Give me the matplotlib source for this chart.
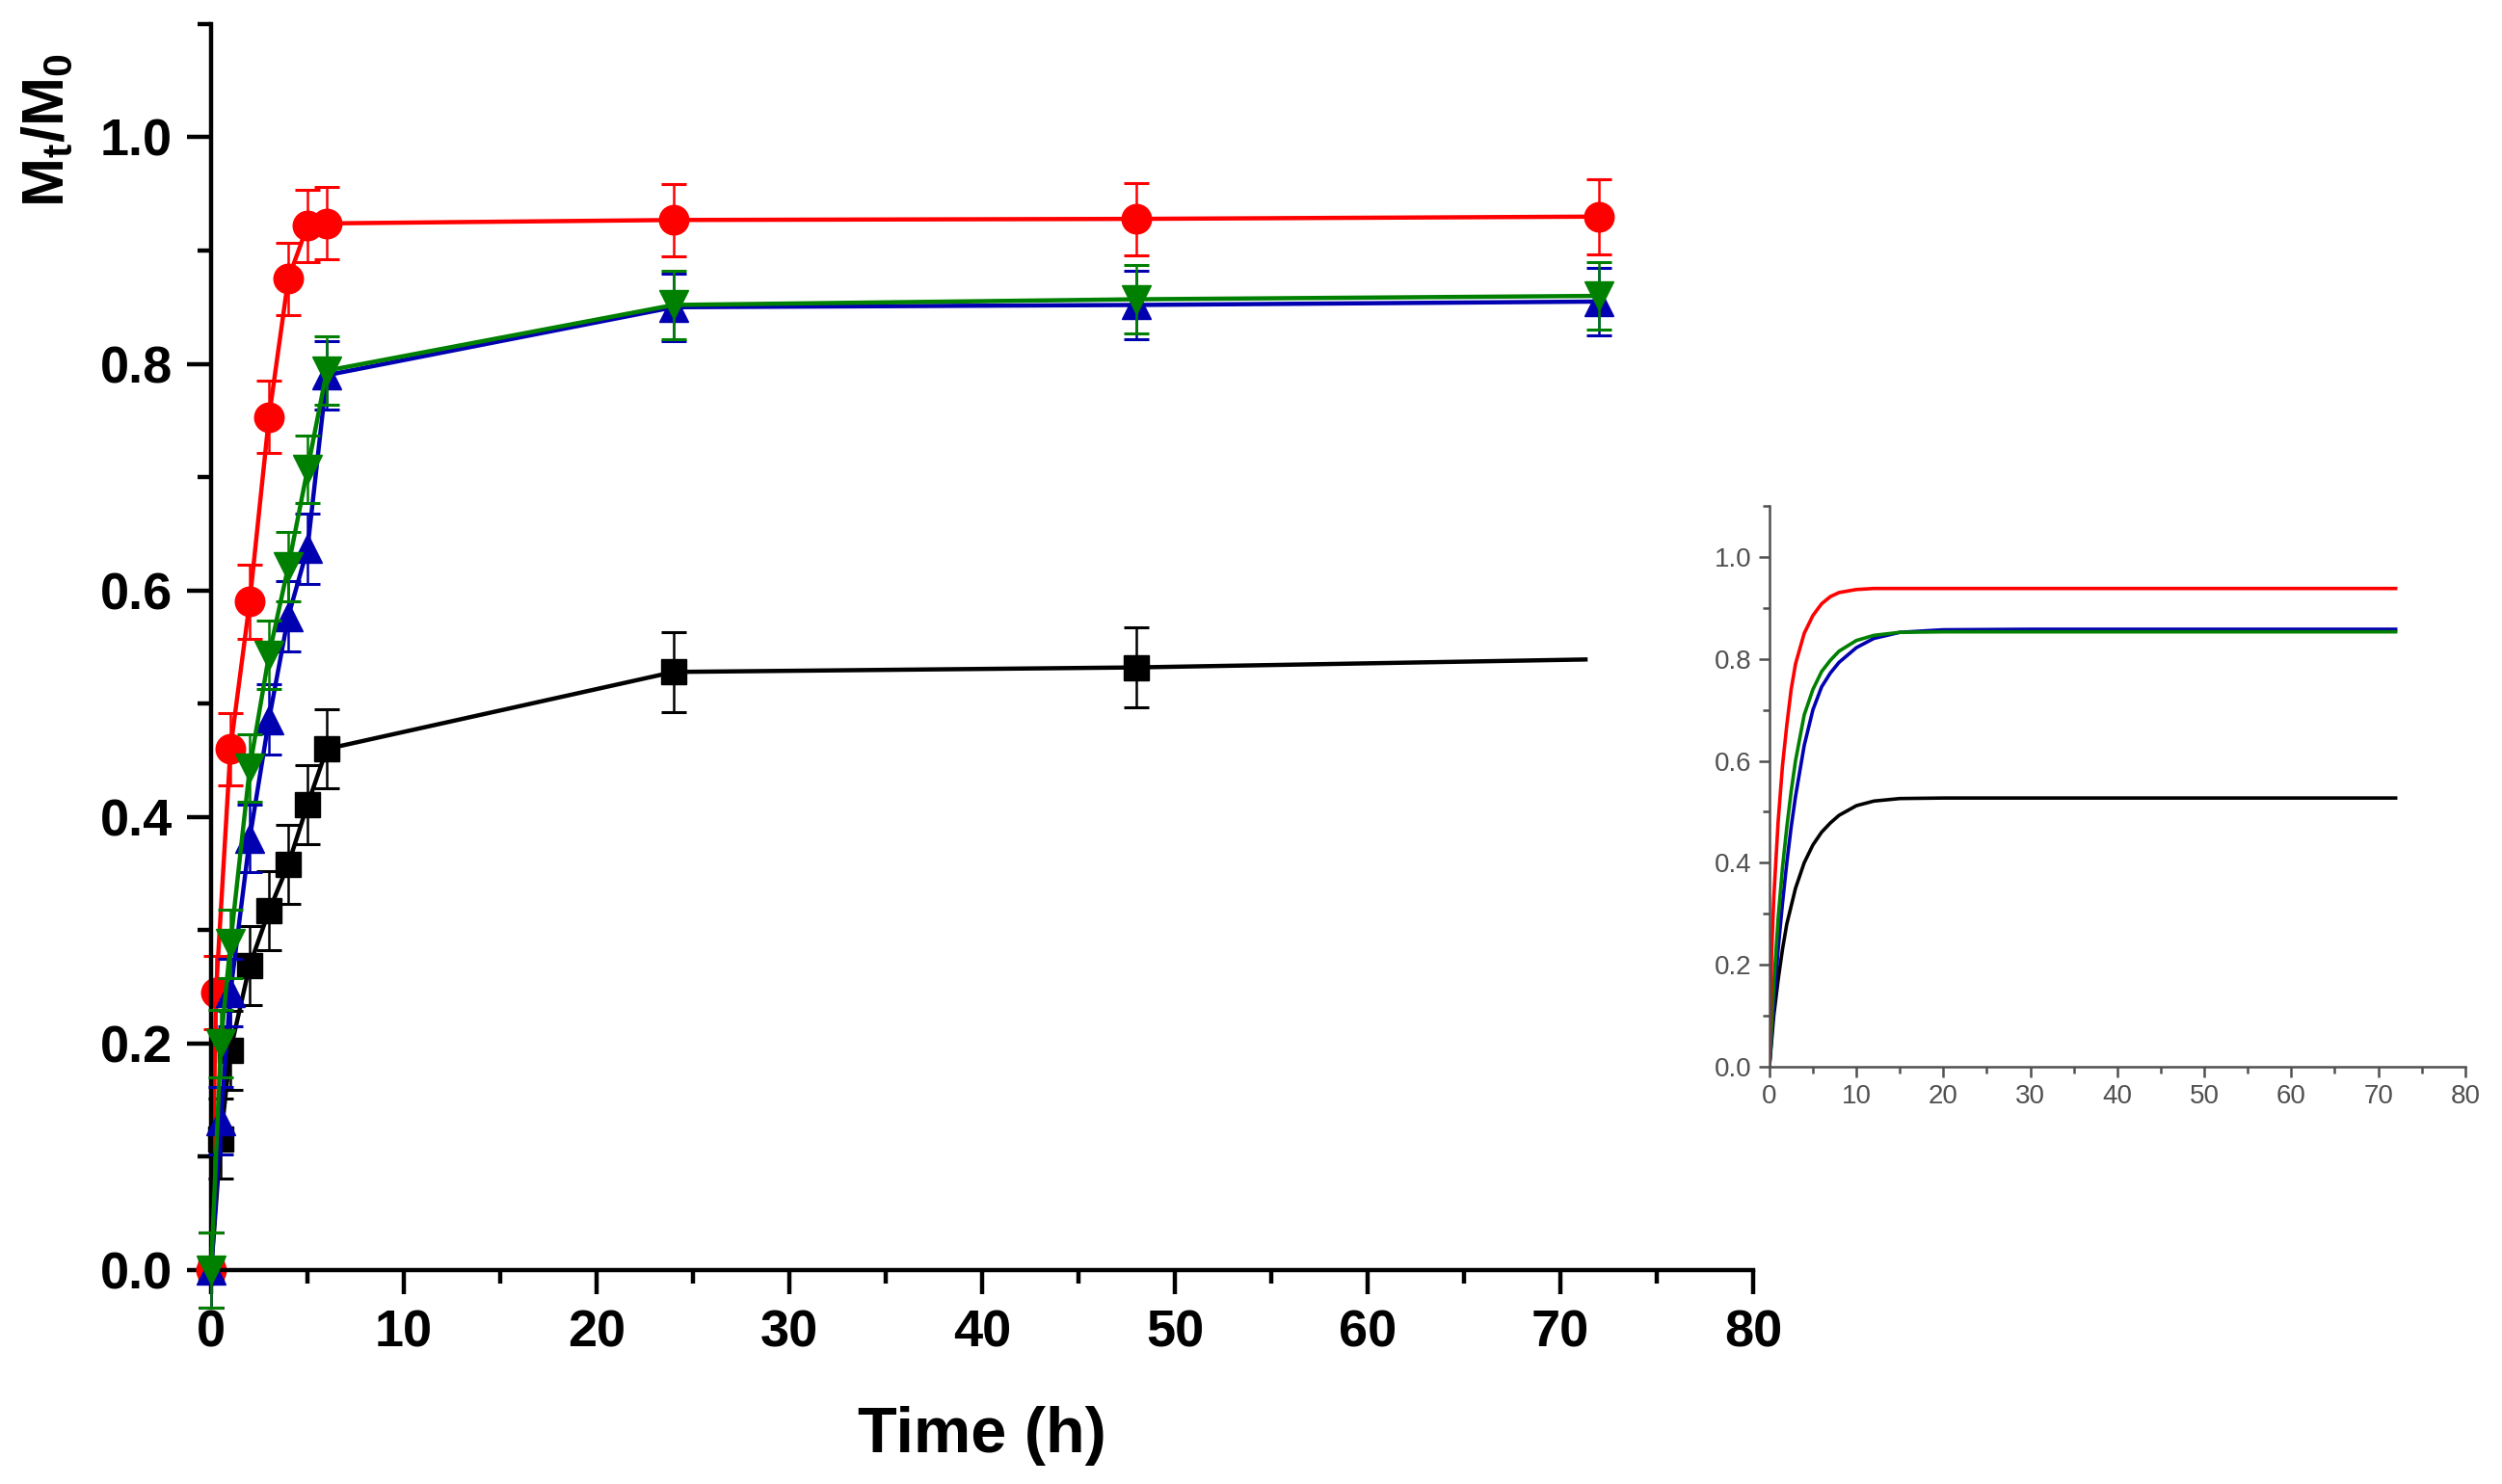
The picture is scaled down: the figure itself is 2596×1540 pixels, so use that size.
import numpy as np
import matplotlib
matplotlib.use("Agg")
import matplotlib.pyplot as plt
from matplotlib.ticker import MultipleLocator

plt.rcParams["font.family"] = ["Liberation Sans", "DejaVu Sans"]
plt.rcParams["mathtext.fontset"] = "custom"
plt.rcParams["mathtext.rm"] = "Liberation Sans"
plt.rcParams["mathtext.bf"] = "Liberation Sans:bold"
plt.rcParams["mathtext.it"] = "Liberation Sans:italic"

# measured release (Mt/M0) with error bars
time_red = [0, 0.25, 1, 2, 3, 4, 5, 6, 24, 48, 72]
red_y = [0, 0.245, 0.46, 0.59, 0.753, 0.875, 0.922, 0.924, 0.927, 0.928, 0.930]
red_err = [0.033, 0.032, 0.032, 0.033, 0.032, 0.032, 0.032, 0.032, 0.032, 0.032, 0.033]

time_blue = [0, 0.5, 1, 2, 3, 4, 5, 6, 24, 48, 72]
blue_y = [0, 0.132, 0.245, 0.381, 0.486, 0.577, 0.637, 0.79, 0.850, 0.852, 0.855]
blue_err = [0.033, 0.03, 0.03, 0.03, 0.031, 0.031, 0.031, 0.03, 0.03, 0.03, 0.03]

time_green = [0, 0.5, 1, 2, 3, 4, 5, 6, 24, 48, 72]
green_y = [0, 0.2, 0.288, 0.443, 0.543, 0.621, 0.707, 0.794, 0.852, 0.857, 0.860]
green_err = [0.033, 0.03, 0.03, 0.03, 0.03, 0.031, 0.03, 0.03, 0.03, 0.03, 0.03]

time_black = [0, 0.5, 1, 2, 3, 4, 5, 6, 24, 48, 71.3]
black_y = [0, 0.116, 0.194, 0.269, 0.317, 0.358, 0.411, 0.46, 0.528, 0.532, 0.539]
black_err = [0.033, 0.035, 0.035, 0.035, 0.035, 0.035, 0.035, 0.035, 0.0355, 0.0355, np.nan]

# fitted curves shown in the inset
time_fit = [0, 0.25, 0.5, 1, 1.5, 2, 2.5, 3, 4, 5, 6, 7, 8, 10, 12, 15, 20, 30, 72]
fit_red = [0, 0.22, 0.33, 0.48, 0.59, 0.67, 0.74, 0.79, 0.85, 0.885, 0.908, 0.922,
           0.930, 0.936, 0.938, 0.938, 0.938, 0.938, 0.938]
fit_green = [0, 0.08, 0.16, 0.29, 0.39, 0.47, 0.54, 0.60, 0.69, 0.74, 0.775, 0.797,
             0.815, 0.836, 0.846, 0.852, 0.853, 0.853, 0.853]
fit_blue = [0, 0.06, 0.12, 0.23, 0.32, 0.40, 0.47, 0.53, 0.63, 0.70, 0.745, 0.772,
            0.793, 0.822, 0.840, 0.852, 0.857, 0.858, 0.858]
fit_black = [0, 0.05, 0.10, 0.17, 0.23, 0.28, 0.315, 0.35, 0.40, 0.435, 0.46, 0.478,
             0.493, 0.512, 0.521, 0.526, 0.527, 0.527, 0.527]

RED = "#FF0000"
GREEN = "#008000"
BLUE = "#0000B0"
BLACK = "#000000"

fig = plt.figure(figsize=(25.96, 15.4), dpi=100)
ax = fig.add_axes([0.0844, 0.1442, 0.6163, 0.8396])

series = [
    (time_black, black_y, black_err, BLACK, "s", 19, 1),
    (time_red, red_y, red_err, RED, "o", 22, 2),
    (time_blue, blue_y, blue_err, BLUE, "^", 22, 3),
    (time_green, green_y, green_err, GREEN, "v", 22, 4),
]

for x, y, err, col, mk, ms, z in series:
    ax.errorbar(x, y, yerr=err, fmt="none", ecolor=col, elinewidth=1.8,
                capsize=9.5, capthick=2.2, zorder=z, clip_on=False)
    nmark = len(x) - 1 if col == BLACK else len(x)
    ax.plot(x, y, color=col, lw=3.2, marker=mk, markersize=ms,
            markevery=slice(0, nmark), zorder=z + 0.5, clip_on=False)

ax.set_xlim(0, 80)
ax.set_ylim(0, 1.1)
ax.xaxis.set_major_locator(MultipleLocator(10))
ax.xaxis.set_minor_locator(MultipleLocator(5))
ax.yaxis.set_major_locator(MultipleLocator(0.2))
ax.yaxis.set_minor_locator(MultipleLocator(0.1))
ax.yaxis.set_major_formatter(plt.FormatStrFormatter("%.1f"))

for side in ["top", "right"]:
    ax.spines[side].set_visible(False)
for side in ["left", "bottom"]:
    ax.spines[side].set_linewidth(3.2)

ax.tick_params(which="major", direction="out", length=18, width=3.2, pad=11,
               labelsize=39)
ax.tick_params(which="minor", direction="out", length=10, width=3.2)
for lab in ax.get_xticklabels() + ax.get_yticklabels():
    lab.set_fontweight("bold")

ax.set_xlabel("Time (h)", fontsize=48, fontweight="bold")
ax.xaxis.set_label_coords(0.5, -0.109)
ax.set_ylabel(r"$\mathbf{M_t/M_0}$", fontsize=44)
ax.yaxis.set_label_coords(-0.088, 0.915)

# inset with model fits
ins = fig.add_axes([0.7072, 0.2812, 0.2781, 0.3779])
ins.plot(time_fit, fit_black, color=BLACK, lw=2.6)
ins.plot(time_fit, fit_blue, color=BLUE, lw=2.6)
ins.plot(time_fit, fit_green, color=GREEN, lw=2.6)
ins.plot(time_fit, fit_red, color=RED, lw=2.6)

ins.set_xlim(0, 80)
ins.set_ylim(0, 1.1)
ins.xaxis.set_major_locator(MultipleLocator(10))
ins.xaxis.set_minor_locator(MultipleLocator(5))
ins.yaxis.set_major_locator(MultipleLocator(0.2))
ins.yaxis.set_minor_locator(MultipleLocator(0.1))
ins.yaxis.set_major_formatter(plt.FormatStrFormatter("%.1f"))

gray = "#505050"
for side in ["top", "right"]:
    ins.spines[side].set_visible(False)
for side in ["left", "bottom"]:
    ins.spines[side].set_linewidth(1.8)
    ins.spines[side].set_color(gray)
ins.tick_params(which="major", direction="out", length=8, width=1.8, pad=5,
                labelsize=20, colors=gray)
ins.tick_params(which="minor", direction="out", length=5, width=1.8, colors=gray)

fig.savefig("out.png", dpi=100)
